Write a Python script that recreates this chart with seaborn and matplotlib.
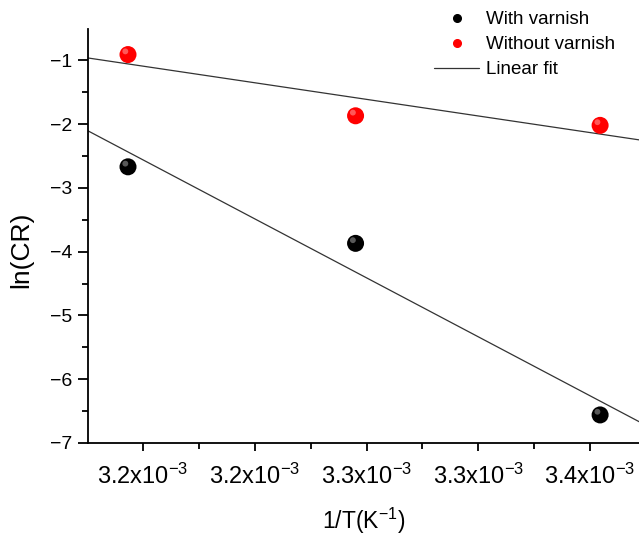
import numpy as np
import pandas as pd
import matplotlib
matplotlib.use("Agg")
import matplotlib.pyplot as plt
import seaborn as sns

# values
inv_T = [3.1933e-3, 3.2951e-3, 3.4045e-3]
ln_cr_varnish = [-2.67, -3.87, -6.56]
ln_cr_bare = [-0.91, -1.87, -2.02]
x_ticks = [3.20e-3, 3.25e-3, 3.30e-3, 3.35e-3, 3.40e-3]
x_tick_labels = ["3.2x10$^{-3}$", "3.2x10$^{-3}$", "3.3x10$^{-3}$", "3.3x10$^{-3}$", "3.4x10$^{-3}$"]
y_ticks = [-7, -6, -5, -4, -3, -2, -1]

sns.set_style("ticks", {"axes.edgecolor": "black", "text.color": "black",
                        "axes.labelcolor": "black", "xtick.color": "black",
                        "ytick.color": "black"})
plt.rcParams['font.family'] = ['Liberation Sans', 'DejaVu Sans']
plt.rcParams['mathtext.default'] = 'regular'

df = pd.DataFrame({
    "x": inv_T * 2,
    "y": ln_cr_varnish + ln_cr_bare,
    "series": ["With varnish"] * 3 + ["Without varnish"] * 3,
})

fig = plt.figure(figsize=(6.39, 5.38), dpi=100)
ax = fig.add_axes([0.1377, 0.1766, 0.8623, 0.7694])

xlim = (3.1754e-3, 3.4219e-3)
xx = np.array([3.17e-3, 3.43e-3])
for ys in (ln_cr_bare, ln_cr_varnish):
    k, b = np.polyfit(inv_T, ys, 1)
    sns.lineplot(x=xx, y=k * xx + b, ax=ax, color="#333333", lw=0.9, legend=False)

sns.scatterplot(data=df, x="x", y="y", hue="series",
                palette={"With varnish": "black", "Without varnish": "#ff0000"},
                s=150, edgecolor="none", ax=ax, legend=False, zorder=3)
# small highlight for the sphere look
ax.scatter(np.array(inv_T * 2) - 0.0012e-3, np.array(ln_cr_varnish + ln_cr_bare) + 0.05,
           s=18, color="white", alpha=0.35, edgecolor="none", zorder=4)

ax.set_xticks(x_ticks)
ax.set_xticklabels(x_tick_labels)
ax.set_xticks([v + 0.025e-3 for v in [x_ticks[0] - 0.05e-3] + x_ticks], minor=True)
ax.set_yticks(y_ticks)
ax.set_yticklabels(["\u2212" + str(-v) for v in y_ticks])
ax.set_yticks(np.arange(-6.5, -0.5, 1.0), minor=True)
ax.set_xlim(*xlim)
ax.set_ylim(-7, -0.51)

ax.tick_params(axis="x", which="major", labelsize=17, length=6, width=1.3, direction="out", pad=9)
ax.tick_params(axis="y", which="major", labelsize=14, length=7, width=1.3, direction="out", pad=4)
ax.tick_params(axis="both", which="minor", length=4, width=1.3, direction="out")
for s in ("left", "bottom"):
    ax.spines[s].set_linewidth(1.3)
sns.despine(ax=ax)

ax.set_xlabel("1/T(K$^{-1}$)", fontsize=16.5, labelpad=12)
ax.set_ylabel("ln(CR)", fontsize=19)
ax.yaxis.set_label_coords(-0.1, 0.466)

handles = [
    plt.Line2D([], [], marker="o", ls="none", color="black", markersize=5.5),
    plt.Line2D([], [], marker="o", ls="none", color="#ff0000", markersize=5.5),
    plt.Line2D([], [], color="#333333", lw=0.9),
]
fig.legend(handles, ["With varnish", "Without varnish", "Linear fit"],
           loc="upper left", bbox_to_anchor=(0.665, 0.997), bbox_transform=fig.transFigure,
           frameon=False, borderpad=0, fontsize=13.5, handlelength=2.4,
           labelspacing=0.42, handletextpad=0.35)

fig.savefig("out.png", dpi=100)
